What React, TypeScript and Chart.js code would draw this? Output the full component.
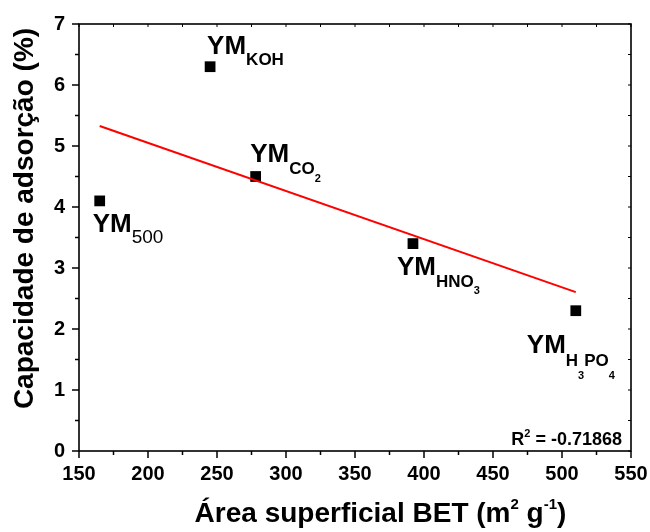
import { useEffect, useRef } from 'react';
import { Chart, registerables } from 'chart.js';

Chart.register(...registerables);

const FONT = '"Liberation Sans", Arial, Helvetica, sans-serif';

// BET surface area (m² g⁻¹) and adsorption capacity (%) for each sample
const betArea = [165, 245, 278, 392, 510];
const adsorption = [4.1, 6.3, 4.5, 3.4, 2.3];

// axis ranges and steps
const xRange = [150, 550];
const yRange = [0, 7];
const xMajorStep = 50;
const yMajorStep = 1;

const correlationText = '-0.71868';

type Run = { t: string; size: number; bold?: boolean; rise: number };

// sample names written as runs of text (main text, subscripts, sub-subscripts)
const sampleLabels: Run[][] = [
  [
    { t: 'YM', size: 26, bold: true, rise: 0 },
    { t: '500', size: 19, rise: 11 },
  ],
  [
    { t: 'YM', size: 26, bold: true, rise: 0 },
    { t: 'KOH', size: 17, bold: true, rise: 11 },
  ],
  [
    { t: 'YM', size: 26, bold: true, rise: 0 },
    { t: 'CO', size: 17, bold: true, rise: 12.5 },
    { t: '2', size: 11, bold: true, rise: 20 },
  ],
  [
    { t: 'YM', size: 26, bold: true, rise: 0 },
    { t: 'HNO', size: 17, bold: true, rise: 12 },
    { t: '3', size: 11, bold: true, rise: 19 },
  ],
  [
    { t: 'YM', size: 26, bold: true, rise: 0 },
    { t: 'H', size: 17, bold: true, rise: 13 },
    { t: '3', size: 11, bold: true, rise: 26 },
    { t: 'PO', size: 17, bold: true, rise: 13 },
    { t: '4', size: 11, bold: true, rise: 26 },
  ],
];

// where each label starts, relative to its marker (px)
const labelOffsets: [number, number][] = [
  [-7, 31],
  [-3, -13],
  [-5.5, -15],
  [-16, 31.5],
  [-49, 42],
];

function linearFit(xs: number[], ys: number[]) {
  const n = xs.length;
  const mx = xs.reduce((a, b) => a + b, 0) / n;
  const my = ys.reduce((a, b) => a + b, 0) / n;
  let sxy = 0;
  let sxx = 0;
  for (let i = 0; i < n; i++) {
    sxy += (xs[i] - mx) * (ys[i] - my);
    sxx += (xs[i] - mx) * (xs[i] - mx);
  }
  const slope = sxy / sxx;
  return { slope, intercept: my - slope * mx };
}

function fontOf(size: number, bold?: boolean) {
  return `${bold ? 'bold ' : ''}${size}px ${FONT}`;
}

function runsWidth(ctx: CanvasRenderingContext2D, runs: Run[]) {
  let w = 0;
  for (const r of runs) {
    ctx.font = fontOf(r.size, r.bold);
    w += ctx.measureText(r.t).width;
  }
  return w;
}

function drawRuns(ctx: CanvasRenderingContext2D, runs: Run[], x: number, y: number) {
  let cx = x;
  for (const r of runs) {
    ctx.font = fontOf(r.size, r.bold);
    ctx.fillText(r.t, cx, y + r.rise);
    cx += ctx.measureText(r.t).width;
  }
}

const xTitle: Run[] = [
  { t: 'Área superficial BET (m', size: 28, bold: true, rise: 0 },
  { t: '2', size: 15, bold: true, rise: -13 },
  { t: ' g', size: 28, bold: true, rise: 0 },
  { t: '-1', size: 15, bold: true, rise: -13 },
  { t: ')', size: 28, bold: true, rise: 0 },
];
const yTitle = 'Capacidade de adsorção (%)';

const framePlugin = {
  id: 'frameAndText',
  afterDraw(chart: any) {
    const ctx: CanvasRenderingContext2D = chart.ctx;
    const { left, right, top, bottom } = chart.chartArea;
    const xs = chart.scales.x;
    const ys = chart.scales.y;
    ctx.save();

    // frame
    ctx.strokeStyle = '#000';
    ctx.lineWidth = 1.6;
    ctx.strokeRect(left, top, right - left, bottom - top);

    const line = (x1: number, y1: number, x2: number, y2: number, w: number) => {
      ctx.lineWidth = w;
      ctx.beginPath();
      ctx.moveTo(x1, y1);
      ctx.lineTo(x2, y2);
      ctx.stroke();
    };

    // x ticks: outward on the bottom, short inward on the top
    for (let v = xRange[0]; v <= xRange[1]; v += xMajorStep / 2) {
      const px = xs.getPixelForValue(v);
      const major = (v - xRange[0]) % xMajorStep === 0;
      line(px, bottom, px, bottom + (major ? 7 : 4), 1.5);
      line(px, top, px, top + 3, 1);
    }
    // y ticks: outward on the left, short inward on the right
    for (let v = yRange[0]; v <= yRange[1] + 1e-9; v += yMajorStep / 2) {
      const py = ys.getPixelForValue(v);
      const major = Math.abs(v - Math.round(v)) < 1e-9;
      line(left, py, left - (major ? 7 : 4), py, 1.5);
      line(right, py, right - 3, py, 1);
    }

    ctx.fillStyle = '#000';
    ctx.textAlign = 'left';
    ctx.textBaseline = 'alphabetic';

    // sample labels
    sampleLabels.forEach((runs, i) => {
      const px = xs.getPixelForValue(betArea[i]);
      const py = ys.getPixelForValue(adsorption[i]);
      drawRuns(ctx, runs, px + labelOffsets[i][0], py + labelOffsets[i][1]);
    });

    // correlation note
    const rRuns: Run[] = [
      { t: 'R', size: 18, bold: true, rise: 0 },
      { t: '2', size: 11, bold: true, rise: -8 },
      { t: ' = ' + correlationText, size: 18, bold: true, rise: 0 },
    ];
    const rw = runsWidth(ctx, rRuns);
    drawRuns(ctx, rRuns, right - 9 - rw, bottom - 6);

    // x axis title
    const tw = runsWidth(ctx, xTitle);
    drawRuns(ctx, xTitle, 380.5 - tw / 2, 522);

    // y axis title
    ctx.save();
    ctx.translate(33, 218.5);
    ctx.rotate(-Math.PI / 2);
    ctx.textAlign = 'center';
    ctx.font = fontOf(28, true);
    ctx.fillText(yTitle, 0, 0);
    ctx.restore();

    ctx.restore();
  },
};

export default function App() {
  const canvasRef = useRef<HTMLCanvasElement | null>(null);

  useEffect(() => {
    const canvas = canvasRef.current;
    if (!canvas) return;

    const fit = linearFit(betArea, adsorption);
    const xMin = Math.min(...betArea);
    const xMax = Math.max(...betArea);
    const fitLine = [
      { x: xMin, y: fit.intercept + fit.slope * xMin },
      { x: xMax, y: fit.intercept + fit.slope * xMax },
    ];
    const points = betArea.map((x, i) => ({ x, y: adsorption[i] }));

    const tickFont = { family: FONT, size: 20, weight: 'bold' as const };

    const chart = new Chart(canvas, {
      type: 'scatter',
      data: {
        datasets: [
          {
            type: 'scatter',
            data: points,
            pointStyle: 'rect',
            pointRadius: 7.6,
            pointBackgroundColor: '#000',
            pointBorderWidth: 0,
            order: 1,
          },
          {
            type: 'line',
            data: fitLine,
            borderColor: '#ff0000',
            borderWidth: 2,
            pointRadius: 0,
            fill: false,
            order: 0,
          },
        ],
      },
      options: {
        animation: false,
        responsive: true,
        maintainAspectRatio: false,
        devicePixelRatio: 1,
        layout: { padding: { left: 0, top: 24, right: 19, bottom: 0 } },
        plugins: { legend: { display: false }, tooltip: { enabled: false } },
        scales: {
          x: {
            type: 'linear',
            position: 'bottom',
            min: xRange[0],
            max: xRange[1],
            grid: { display: false, drawTicks: false },
            border: { display: false },
            ticks: { stepSize: xMajorStep, font: tickFont, color: '#000', padding: 11, maxRotation: 0 },
            afterFit: (s: any) => {
              s.height = 81;
              s.paddingLeft = 0;
              s.paddingRight = 0;
            },
          },
          y: {
            type: 'linear',
            min: yRange[0],
            max: yRange[1],
            grid: { display: false, drawTicks: false },
            border: { display: false },
            ticks: { stepSize: yMajorStep, font: tickFont, color: '#000', padding: 14 },
            afterFit: (s: any) => {
              s.width = 79;
              s.paddingTop = 0;
              s.paddingBottom = 0;
            },
          },
        },
      },
      plugins: [framePlugin],
    });

    return () => chart.destroy();
  }, []);

  return (
    <div style={{ position: 'absolute', left: 0, top: 0, width: 650, height: 532, background: '#fff' }}>
      <canvas ref={canvasRef} />
    </div>
  );
}
